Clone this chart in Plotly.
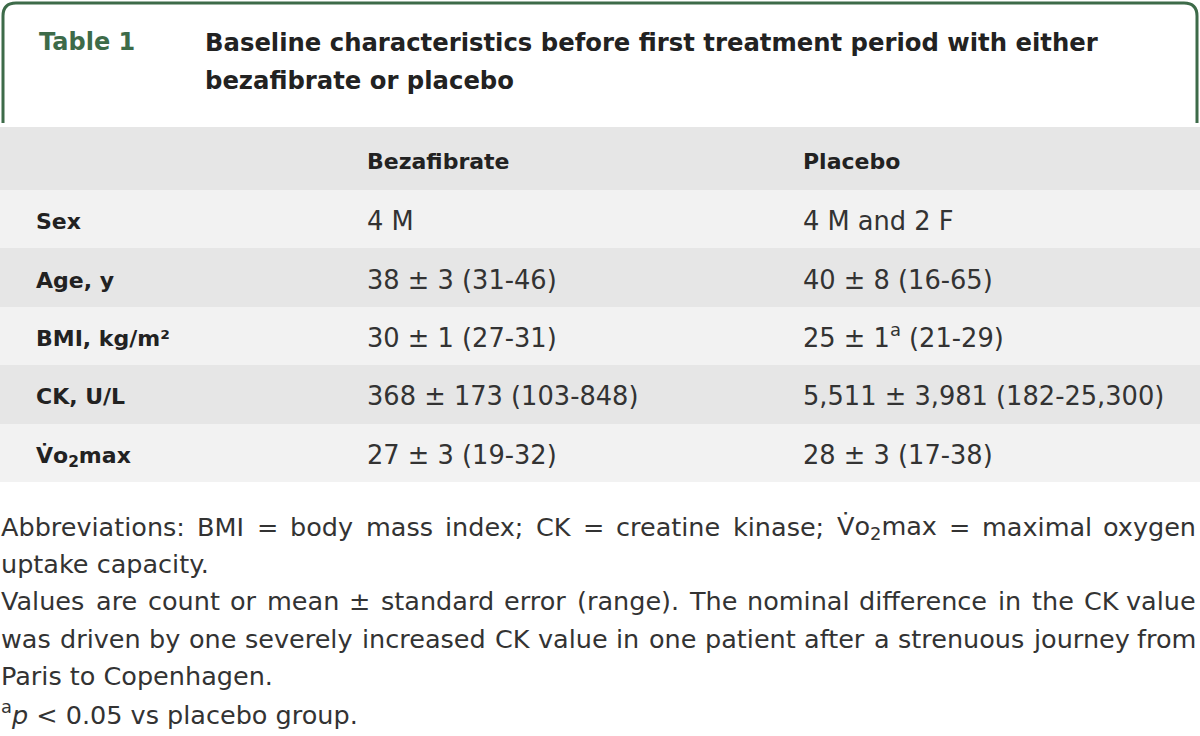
import re
import plotly.graph_objects as go

# ---------------- data ----------------
table_number = "Table 1"
title_lines = ["Baseline characteristics before first treatment period with either",
               "bezafibrate or placebo"]
col_headers = ["", "Bezafibrate", "Placebo"]
row_labels = ["Sex", "Age, y", "BMI, kg/m²", "CK, U/L", "V̇o<sub>2</sub>max"]
bezafibrate = ["4 M", "38 ± 3 (31-46)", "30 ± 1 (27-31)", "368 ± 173 (103-848)", "27 ± 3 (19-32)"]
placebo = ["4 M and 2 F", "40 ± 8 (16-65)", "25 ± 1<sup>a</sup> (21-29)",
           "5,511 ± 3,981 (182-25,300)", "28 ± 3 (17-38)"]
footnotes = [
    "Abbreviations: BMI = body mass index; CK = creatine kinase; V̇o<sub>2</sub>max = maximal oxygen",
    "uptake capacity.",
    "Values are count or mean ± standard error (range). The nominal difference in the CK value",
    "was driven by one severely increased CK value in one patient after a strenuous journey from",
    "Paris to Copenhagen.",
    "<sup>a</sup><i>p</i> &lt; 0.05 vs placebo group.",
]
justified = [True, False, True, True, False, False]

# ---------------- layout constants ----------------
W, H = 1200, 736
FONT = "DejaVu Sans"
GREEN = "#3d6b49"
table_top = 127
header_h = 63
row_h = 58.4
col_x = [36, 367, 803]
text_dy = 4.5
dark_band = "#e6e6e6"
light_band = "#f2f2f2"
VAL_SIZE = 25.7
BOLD_SIZE = 22
FOOT_SIZE = 25.5
TEXT_COLOR = "#333333"
BOLD_COLOR = "#222222"

n_rows = len(row_labels) + 1
heights = [header_h] + [row_h] * len(row_labels)
row_y = []
acc = table_top
for h in heights:
    row_y.append(acc + h / 2)
    acc += h
band_colors = [dark_band if i % 2 == 0 else light_band for i in range(n_rows)]
text_y = [y + text_dy for y in row_y]

fig = go.Figure()

# row bands
fig.add_trace(go.Bar(
    y=row_y, x=[W] * n_rows, base=0, orientation="h", width=heights,
    marker=dict(color=band_colors, line=dict(width=0)),
    hoverinfo="skip", showlegend=False,
))

# header row text
fig.add_trace(go.Scatter(
    x=col_x[1:], y=[text_y[0]] * 2, mode="text",
    text=["<b>%s</b>" % h for h in col_headers[1:]],
    textposition="middle right",
    textfont=dict(family=FONT, size=BOLD_SIZE, color=BOLD_COLOR),
    hoverinfo="skip", showlegend=False,
))
# row labels
fig.add_trace(go.Scatter(
    x=[col_x[0]] * len(row_labels), y=text_y[1:], mode="text",
    text=["<b>%s</b>" % r for r in row_labels],
    textposition="middle right",
    textfont=dict(family=FONT, size=BOLD_SIZE, color=BOLD_COLOR),
    hoverinfo="skip", showlegend=False,
))
# values
for xi, vals in zip(col_x[1:], [bezafibrate, placebo]):
    fig.add_trace(go.Scatter(
        x=[xi] * len(vals), y=text_y[1:], mode="text",
        text=vals, textposition="middle right",
        textfont=dict(family=FONT, size=VAL_SIZE, color=TEXT_COLOR),
        hoverinfo="skip", showlegend=False,
    ))

# header frame
r = 13
x0, x1, yt, yb = 3, 1197, 3, 123
fig.add_shape(type="path",
              path=f"M {x0},{yb} L {x0},{yt + r} Q {x0},{yt} {x0 + r},{yt} L {x1 - r},{yt} "
                   f"Q {x1},{yt} {x1},{yt + r} L {x1},{yb}",
              line=dict(color=GREEN, width=3), xref="x", yref="y")

# approximate DejaVu Sans advance widths (em)
CW = {' ': .318, 'a': .613, 'b': .635, 'c': .550, 'd': .635, 'e': .615, 'f': .352, 'g': .635,
      'h': .634, 'i': .278, 'j': .278, 'k': .579, 'l': .278, 'm': .974, 'n': .634, 'o': .612,
      'p': .635, 'q': .635, 'r': .411, 's': .521, 't': .392, 'u': .634, 'v': .592, 'w': .818,
      'x': .592, 'y': .592, 'z': .525, 'A': .684, 'B': .686, 'C': .698, 'D': .770, 'E': .632,
      'I': .295, 'K': .656, 'M': .863, 'P': .603, 'T': .611, 'V': .684, '.': .318, ',': .318,
      ':': .337, ';': .337, '(': .390, ')': .390, '=': .838, '±': .838, '-': .361, '<': .838,
      '\u0307': 0.0}
for d in "0123456789":
    CW[d] = .636
WIDTH_CORR = 0.9957


def text_width(s, size):
    total, scale = 0.0, 1.0
    for tok in re.split(r"(<[^>]+>)", s):
        if tok.startswith("<"):
            scale = 0.7 if tok in ("<sub>", "<sup>") else 1.0
            continue
        for ch in tok.replace("&lt;", "<"):
            total += CW.get(ch, 0.6) * scale
    return total * size * WIDTH_CORR


annotations = []
annotations.append(dict(x=38, y=42, text="<b>%s</b>" % table_number, xanchor="left",
                        font=dict(family=FONT, size=24, color=GREEN)))
for i, line in enumerate(title_lines):
    annotations.append(dict(x=204, y=42 + 38 * i, text="<b>%s</b>" % line, xanchor="left",
                            font=dict(family=FONT, size=24.3, color=BOLD_COLOR)))

foot_left, foot_right, foot_top, foot_step = 0, 1197, 527, 37.2
for i, line in enumerate(footnotes):
    y = foot_top + foot_step * i
    font = dict(family=FONT, size=FOOT_SIZE, color=TEXT_COLOR)
    if justified[i]:
        words = line.split(" ")
        widths = [text_width(w, FOOT_SIZE) for w in words]
        gap = (foot_right - foot_left - sum(widths)) / (len(words) - 1)
        x = foot_left
        for k, (w, wd) in enumerate(zip(words, widths)):
            if k == len(words) - 1:
                annotations.append(dict(x=foot_right, y=y, text=w, xanchor="right", font=font))
            else:
                annotations.append(dict(x=x, y=y, text=w, xanchor="left", font=font))
            x += wd + gap
    else:
        annotations.append(dict(x=foot_left, y=y, text=line, xanchor="left", font=font))

for a in annotations:
    a.update(xref="x", yref="y", yanchor="middle", showarrow=False,
             xshift=(-1 if a["xanchor"] == "left" else 1))

fig.update_layout(
    width=W, height=H, margin=dict(l=0, r=0, t=0, b=0),
    paper_bgcolor="white", plot_bgcolor="white",
    xaxis=dict(range=[0, W], visible=False, fixedrange=True),
    yaxis=dict(range=[H, 0], visible=False, fixedrange=True),
    annotations=annotations, bargap=0,
)

fig.write_html("out.html", config={"displayModeBar": False},
               post_script="document.body.style.margin='0px';"
                           "document.body.style.overflow='hidden';")
